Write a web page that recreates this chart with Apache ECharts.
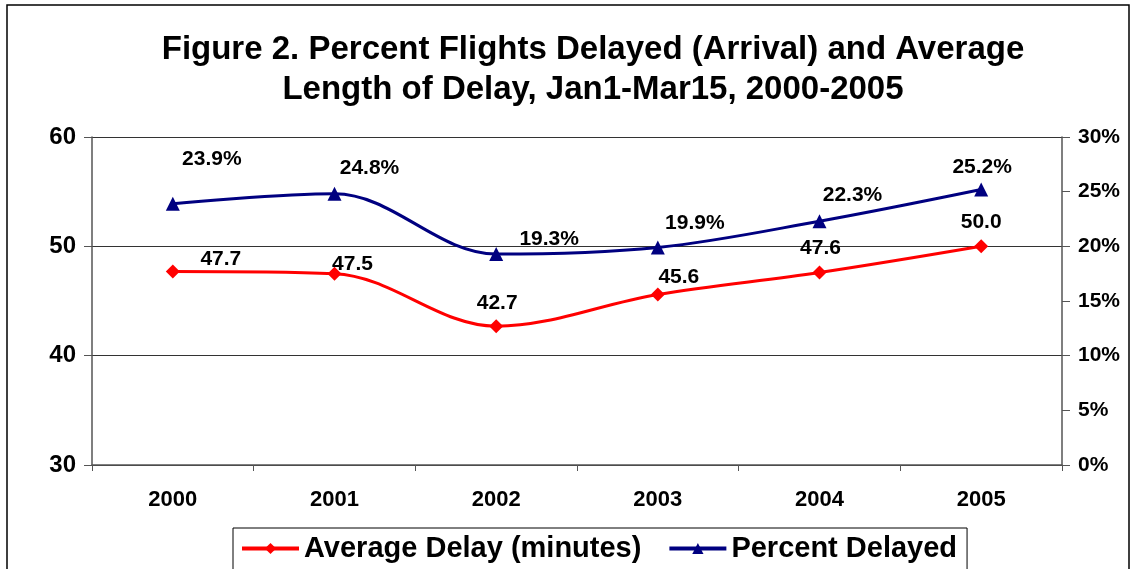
<!DOCTYPE html>
<html>
<head>
<meta charset="utf-8">
<script src="https://cdn.jsdelivr.net/npm/echarts@6/dist/echarts.min.js"></script>
<style>
  html, body { margin: 0; padding: 0; background: #fff; }
  #main { width: 1134px; height: 569px; }
</style>
</head>
<body>
<div id="main"></div>
<script>
// 数据
var years = ['2000', '2001', '2002', '2003', '2004', '2005'];
var avgDelay = [47.7, 47.5, 42.7, 45.6, 47.6, 50.0];
var pctDelayed = [23.9, 24.8, 19.3, 19.9, 22.3, 25.2];
// Excel-style label offsets (px from the point centre) for each point
var avgOffsets = [[48, -12], [18, -9], [1, -23], [21, -17], [1, -24], [0, -24]];
var pctOffsets = [[39, -44], [35, -26], [53, -15], [37, -24], [33, -26], [1, -22]];

var FONT = 'Liberation Sans, Arial, sans-serif';

function withLabels(vals, offs, fmt) {
  var out = [];
  for (var i = 0; i < vals.length; i++) {
    out.push({
      value: vals[i],
      label: { offset: offs[i], formatter: fmt }
    });
  }
  return out;
}

var labelStyle = {
  show: true,
  position: 'inside',
  align: 'center',
  verticalAlign: 'middle',
  fontFamily: FONT,
  fontWeight: 'bold',
  fontSize: 21,
  color: '#000'
};

var chart = echarts.init(document.getElementById('main'));

var option = {
  backgroundColor: '#fff',
  animation: false,
  title: {
    text: 'Figure 2. Percent Flights Delayed (Arrival) and Average\nLength of Delay, Jan1-Mar15, 2000-2005',
    left: 588,
    textAlign: 'center',   // 标题中心略偏右
    top: 25,
    textStyle: {
      fontFamily: FONT,
      fontWeight: 'bold',
      fontSize: 33,
      lineHeight: 40,
      color: '#000'
    }
  },
  graphic: [{
    type: 'rect',
    shape: { x: 7, y: 5, width: 1122, height: 580 },
    style: { fill: null, stroke: '#000', lineWidth: 1.5 },
    silent: true
  }],
  legend: {
    left: 233,
    top: 528,
    padding: [6, 10, 14, 7],
    itemGap: 26,
    itemWidth: 57,
    itemHeight: 14,
    borderColor: '#000',
    borderWidth: 1,
    lineStyle: { width: 4 },
    textStyle: {
      fontFamily: FONT,
      fontWeight: 'bold',
      fontSize: 29,
      color: '#000'
    },
    data: ['Average Delay (minutes)', 'Percent Delayed']
  },
  grid: {
    left: 92,
    right: 72,
    top: 137,
    bottom: 104
  },
  xAxis: {
    type: 'category',
    data: years,
    boundaryGap: true,
    axisLine: { lineStyle: { color: '#555', width: 1.5 } },
    axisTick: { show: true, length: 6, lineStyle: { color: '#555' } },
    axisLabel: {
      margin: 24,
      fontFamily: FONT,
      fontWeight: 'bold',
      fontSize: 22,
      color: '#000'
    }
  },
  yAxis: [{
    type: 'value',
    min: 30,
    max: 60,
    interval: 10,
    position: 'left',
    axisLine: { show: true, lineStyle: { color: '#555', width: 1.5 } },
    axisTick: { show: true, inside: false, length: 8, lineStyle: { color: '#555' } },
    splitLine: { show: true, lineStyle: { color: '#333', width: 1 } },
    axisLabel: {
      margin: 16,
      fontFamily: FONT,
      fontWeight: 'bold',
      fontSize: 24,
      color: '#000'
    }
  }, {
    type: 'value',
    min: 0,
    max: 30,
    interval: 5,
    position: 'right',
    axisLine: { show: true, lineStyle: { color: '#555', width: 1.5 } },
    axisTick: { show: true, length: 8, lineStyle: { color: '#555' } },
    splitLine: { show: false },
    axisLabel: {
      margin: 16,
      formatter: '{value}%',
      fontFamily: FONT,
      fontWeight: 'bold',
      fontSize: 21,
      color: '#000'
    }
  }],
  series: [{
    name: 'Average Delay (minutes)',
    type: 'line',
    yAxisIndex: 0,
    smooth: 0.35,
    symbol: 'diamond',
    symbolSize: 14,
    color: '#FF0000',
    lineStyle: { width: 3, color: '#FF0000' },
    itemStyle: { color: '#FF0000' },
    label: labelStyle,
    data: withLabels(avgDelay, avgOffsets, function (p) { return p.value.toFixed(1); })
  }, {
    name: 'Percent Delayed',
    type: 'line',
    yAxisIndex: 1,
    smooth: 0.35,
    symbol: 'triangle',
    symbolSize: 14,
    color: '#000080',
    lineStyle: { width: 3, color: '#000080' },
    itemStyle: { color: '#000080' },
    label: labelStyle,
    data: withLabels(pctDelayed, pctOffsets, function (p) { return p.value.toFixed(1) + '%'; })
  }]
};

chart.setOption(option);
</script>
</body>
</html>
